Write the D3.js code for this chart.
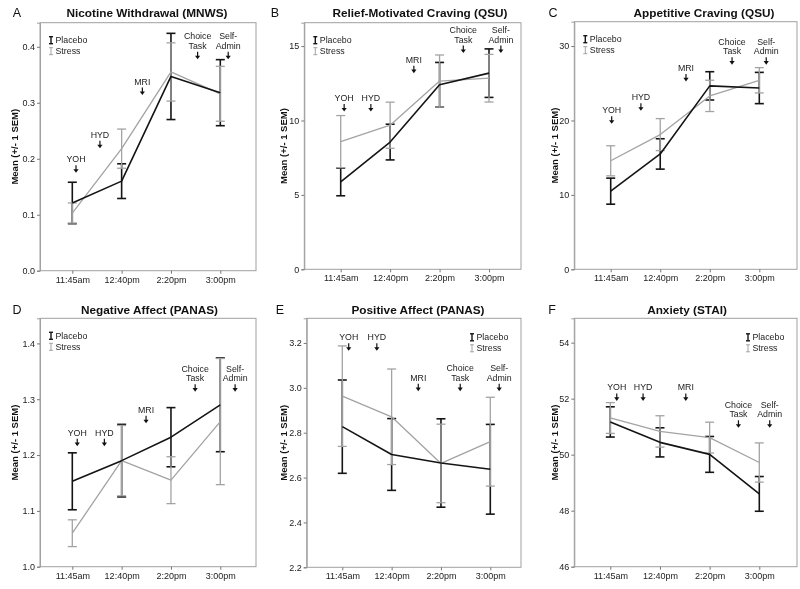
<!DOCTYPE html>
<html><head><meta charset="utf-8">
<script src="https://cdn.jsdelivr.net/npm/d3@7"></script>
<style>body{margin:0;background:#fff}svg{display:block;opacity:0.999;will-change:transform}text{font-family:"Liberation Sans",Arial,sans-serif}</style>
</head><body>
<svg id="c" width="800" height="589"></svg>
<script>
// ---------- DATA ----------
const times = ["11:45am", "12:40pm", "2:20pm", "3:00pm"];
const groups = ["Placebo", "Stress"];
const panelLetters = ["A", "B", "C", "D", "E", "F"];
const panelTitles = ["Nicotine Withdrawal (MNWS)", "Relief-Motivated Craving (QSU)", "Appetitive Craving (QSU)",
  "Negative Affect (PANAS)", "Positive Affect (PANAS)", "Anxiety (STAI)"];
const yAxisTitle = "Mean (+/- 1 SEM)";

const nicotinePlacebo = [0.121, 0.160, 0.347, 0.318];
const nicotinePlaceboSem = [0.037, 0.031, 0.077, 0.059];
const nicotineStress = [0.103, 0.218, 0.355, 0.316];
const nicotineStressSem = [0.018, 0.035, 0.052, 0.049];

const reliefPlacebo = [5.87, 8.55, 12.4, 13.18];
const reliefPlaceboSem = [0.93, 1.2, 1.5, 1.63];
const reliefStress = [8.58, 9.68, 12.65, 12.84];
const reliefStressSem = [1.75, 1.55, 1.75, 1.6];

const appetitivePlacebo = [10.5, 15.5, 24.65, 24.36];
const appetitivePlaceboSem = [1.75, 2.04, 1.9, 2.1];
const appetitiveStress = [14.58, 18.1, 23.3, 25.4];
const appetitiveStressSem = [2.02, 2.15, 2.1, 1.7];

const negativePlacebo = [1.153, 1.19, 1.232, 1.29];
const negativePlaceboSem = [0.051, 0.065, 0.053, 0.084];
const negativeStress = [1.06, 1.19, 1.155, 1.26];
const negativeStressSem = [0.024, 0.063, 0.042, 0.113];

const positivePlacebo = [2.827, 2.703, 2.665, 2.637];
const positivePlaceboSem = [0.208, 0.16, 0.197, 0.2];
const positiveStress = [2.963, 2.871, 2.663, 2.76];
const positiveStressSem = [0.224, 0.213, 0.175, 0.198];

const anxietyPlacebo = [51.17, 50.44, 50.01, 48.6];
const anxietyPlaceboSem = [0.54, 0.52, 0.64, 0.62];
const anxietyStress = [51.31, 50.83, 50.61, 49.72];
const anxietyStressSem = [0.55, 0.56, 0.55, 0.7];

const yDomains = [[0, 0.443], [0, 16.57], [0, 33.27], [1.0, 1.445], [2.2, 3.31], [46, 54.87]];
const yTicks = [[0, 0.1, 0.2, 0.3, 0.4], [0, 5, 10, 15], [0, 10, 20, 30],
  [1.0, 1.1, 1.2, 1.3, 1.4], [2.2, 2.4, 2.6, 2.8, 3.0, 3.2], [46, 48, 50, 52, 54]];
const yTickFormats = [".1f", "d", "d", ".1f", ".1f", "d"];

// event annotations: label, position along the time index, value at arrow tip
const eventLabels = ["YOH", "HYD", "MRI", "Choice\nTask", "Self-\nAdmin"];
const eventAtA = [0.075, 0.56, 1.42, 2.54, 3.16], eventValA = [0.175, 0.2186, 0.3137, 0.3775, 0.3775];
const eventAtB = [0.07, 0.61, 1.48, 2.48, 3.24], eventValB = [10.6, 10.6, 13.18, 14.53, 14.53];
const eventAtC = [0.02, 0.61, 1.52, 2.45, 3.14], eventValC = [19.56, 21.3, 25.25, 27.5, 27.5];
const eventAtD = [0.1, 0.65, 1.495, 2.49, 3.3], eventValD = [1.216, 1.216, 1.257, 1.3136, 1.3136];
const eventAtE = [0.13, 0.7, 1.54, 2.39, 3.18], eventValE = [3.165, 3.165, 2.985, 2.985, 2.985];
const eventAtF = [0.13, 0.66, 1.52, 2.58, 3.21], eventValF = [51.92, 51.92, 51.92, 50.96, 50.96];

// ---------- LAYOUT ----------
const layout = [
  {L: 40, R: 256, T: 22.7, B: 270.7, x0: 72.3, x3: 220.3, letter: [17, 13], title: [147, 13], yt: 15, leg: "left"},
  {L: 304.3, R: 521, T: 22.7, B: 269.3, x0: 340.7, x3: 489, letter: [275, 13], title: [420, 13], yt: 283.3, leg: "left"},
  {L: 574.3, R: 797, T: 21.7, B: 269.3, x0: 610.7, x3: 759.3, letter: [553, 13], title: [704, 13], yt: 555, leg: "left"},
  {L: 40, R: 256, T: 318.3, B: 566.7, x0: 72.3, x3: 220.3, letter: [17, 310], title: [149.5, 310], yt: 15, leg: "left"},
  {L: 306.7, R: 521, T: 318.3, B: 567.3, x0: 342.3, x3: 490.3, letter: [280, 310], title: [418, 310], yt: 283.3, leg: "right"},
  {L: 574.3, R: 797, T: 318.3, B: 566.7, x0: 610.3, x3: 759.3, letter: [552, 310], title: [687, 310], yt: 555, leg: "right"}
];

const panels = [
  {p: nicotinePlacebo, ps: nicotinePlaceboSem, s: nicotineStress, ss: nicotineStressSem, at: eventAtA, ev: eventValA},
  {p: reliefPlacebo, ps: reliefPlaceboSem, s: reliefStress, ss: reliefStressSem, at: eventAtB, ev: eventValB},
  {p: appetitivePlacebo, ps: appetitivePlaceboSem, s: appetitiveStress, ss: appetitiveStressSem, at: eventAtC, ev: eventValC},
  {p: negativePlacebo, ps: negativePlaceboSem, s: negativeStress, ss: negativeStressSem, at: eventAtD, ev: eventValD},
  {p: positivePlacebo, ps: positivePlaceboSem, s: positiveStress, ss: positiveStressSem, at: eventAtE, ev: eventValE},
  {p: anxietyPlacebo, ps: anxietyPlaceboSem, s: anxietyStress, ss: anxietyStressSem, at: eventAtF, ev: eventValF}
];

const colPlacebo = "#141414", colStress = "#a3a3a3", frameCol = "#a0a0a0";
const svg = d3.select("#c");
svg.append("rect").attr("width", 800).attr("height", 589).attr("fill", "#fff");

panels.forEach((pd, k) => {
  const lo = layout[k];
  const g = svg.append("g");
  const x = d3.scalePoint().domain(times).range([lo.x0, lo.x3]);
  const xi = d3.scaleLinear().domain([0, times.length - 1]).range([lo.x0, lo.x3]);
  const y = d3.scaleLinear().domain(yDomains[k]).range([lo.B, lo.T]);

  // frame
  g.append("rect").attr("x", lo.L).attr("y", lo.T).attr("width", lo.R - lo.L).attr("height", lo.B - lo.T)
    .attr("fill", "none").attr("stroke", frameCol).attr("stroke-width", 1);

  // y axis
  const ya = g.append("g").attr("transform", `translate(${lo.L},0)`)
    .call(d3.axisLeft(y).tickValues(yTicks[k]).tickFormat(d3.format(yTickFormats[k])).tickSize(3).tickPadding(2));
  ya.select(".domain").attr("stroke", frameCol);
  ya.selectAll(".tick line").attr("stroke", "#777");
  ya.selectAll("text").attr("font-size", 9).attr("fill", "#222").attr("font-family", "Liberation Sans, Arial, sans-serif");

  // x axis
  const xa = g.append("g").attr("transform", `translate(0,${lo.B})`)
    .call(d3.axisBottom(x).tickSize(3).tickPadding(2.5));
  xa.select(".domain").remove();
  xa.selectAll(".tick line").attr("stroke", "#777");
  xa.selectAll("text").attr("font-size", 9).attr("fill", "#222").attr("font-family", "Liberation Sans, Arial, sans-serif");

  // letter + title
  g.append("text").attr("x", lo.letter[0]).attr("y", lo.letter[1]).attr("dy", "0.35em").attr("text-anchor", "middle")
    .attr("font-size", 12.5).attr("fill", "#111").text(panelLetters[k]);
  g.append("text").attr("x", lo.title[0]).attr("y", lo.title[1]).attr("dy", "0.35em").attr("text-anchor", "middle")
    .attr("font-size", 11.8).attr("font-weight", "bold").attr("fill", "#111").text(panelTitles[k]);
  g.append("text").attr("transform", `translate(${lo.yt},${(lo.T + lo.B) / 2}) rotate(-90)`).attr("dy", "0.35em")
    .attr("text-anchor", "middle").attr("font-size", 9.5).attr("font-weight", "bold").attr("fill", "#111").text(yAxisTitle);

  // series
  const series = [
    {name: groups[0], m: pd.p, e: pd.ps, col: colPlacebo, w: 1.6},
    {name: groups[1], m: pd.s, e: pd.ss, col: colStress, w: 1.3}
  ];
  const line = d3.line().x((d, i) => x(times[i])).y(d => y(d));
  series.forEach(s => {
    const eb = g.append("g").attr("stroke", s.col).attr("stroke-width", s.w).attr("fill", "none");
    s.m.forEach((m, i) => {
      const cx = x(times[i]), y1 = y(m - s.e[i]), y2 = y(m + s.e[i]);
      eb.append("line").attr("x1", cx).attr("x2", cx).attr("y1", y1).attr("y2", y2);
      eb.append("line").attr("x1", cx - 4.5).attr("x2", cx + 4.5).attr("y1", y1).attr("y2", y1);
      eb.append("line").attr("x1", cx - 4.5).attr("x2", cx + 4.5).attr("y1", y2).attr("y2", y2);
    });
  });
  [series[1], series[0]].forEach(s => {
    g.append("path").datum(s.m).attr("d", line).attr("fill", "none").attr("stroke", s.col)
      .attr("stroke-width", s.w).attr("stroke-linejoin", "round");
  });

  // event annotations
  eventLabels.forEach((lab, j) => {
    const ax = xi(pd.at[j]), tip = y(pd.ev[j]);
    const lines = lab.split("\n");
    lines.forEach((t, li) => {
      g.append("text").attr("x", ax).attr("y", tip - 13.5 - (lines.length - 1 - li) * 9.6).attr("dy", "0.35em")
        .attr("text-anchor", "middle").attr("font-size", 8.8).attr("fill", "#222").text(t);
    });
    g.append("line").attr("x1", ax).attr("x2", ax).attr("y1", tip - 7.5).attr("y2", tip - 2)
      .attr("stroke", "#111").attr("stroke-width", 1.2);
    g.append("path").attr("d", `M${ax - 2.6},${tip - 3.6}L${ax + 2.6},${tip - 3.6}L${ax},${tip}Z`).attr("fill", "#111");
  });

  // legend
  const lx = lo.leg === "left" ? lo.L + 11 : lo.R - 49;
  const ly = lo.leg === "left" ? lo.T + 17.5 : lo.T + 19;
  series.forEach((s, i) => {
    const yy = ly + i * 11;
    const lg = g.append("g").attr("stroke", s.col).attr("stroke-width", i === 0 ? 1.4 : 1);
    lg.append("line").attr("x1", lx).attr("x2", lx).attr("y1", yy - 3.5).attr("y2", yy + 3.5);
    lg.append("line").attr("x1", lx - 2).attr("x2", lx + 2).attr("y1", yy - 3.5).attr("y2", yy - 3.5);
    lg.append("line").attr("x1", lx - 2).attr("x2", lx + 2).attr("y1", yy + 3.5).attr("y2", yy + 3.5);
    g.append("text").attr("x", lx + 4.5).attr("y", yy).attr("dy", "0.35em").attr("font-size", 8.8)
      .attr("fill", "#222").text(s.name);
  });
});
</script>
</body></html>
